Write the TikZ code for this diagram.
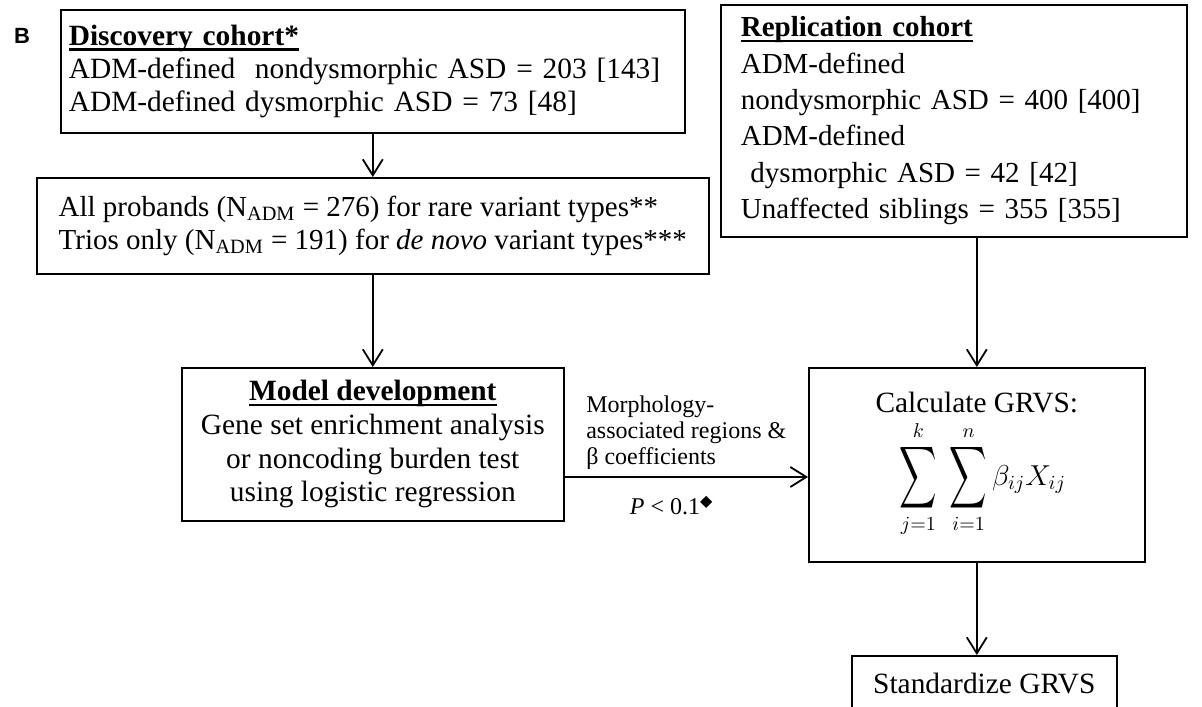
\documentclass[tikz,border=0pt]{standalone}
\usepackage{amsmath}
\usepackage{fontspec}
\setmainfont{Liberation Serif}
\newfontfamily\panelfont{Liberation Sans}
\newfontfamily\symbolfont{DejaVu Sans}
\usetikzlibrary{arrows.meta}

% boxes and arrows of the flow chart
\tikzset{
  box/.style={draw, line width=0.8pt, anchor=north west, inner ysep=0pt,
    font=\fontsize{14.7}{16.8}\selectfont},
  flow/.style={line width=0.9pt,
    -{Straight Barb[length=8pt, width=10pt, line width=0.9pt]}},
  note/.style={font=\fontsize{12}{13.2}\selectfont, align=left}
}
% bold heading with a thick underline close to the baseline
\newcommand{\ulhead}[1]{\setbox0\hbox{\textbf{#1}}%
  \rlap{\rule[-2.7pt]{\wd0}{1.2pt}}\box0}
\newcommand{\bigsum}{\mathop{\vcenter{\hbox{\scalebox{0.9}[1.5]{$\displaystyle\sum$}}}}\limits}

\begin{document}
\begin{tikzpicture}[x=0.5pt, y=-0.5pt]
\useasboundingbox (0,0) rectangle (1202,706);
\clip (0,0) rectangle (1202,706);

\node [font=\panelfont\bfseries\fontsize{11}{13}\selectfont] (panel) at (22,36) {B};

\node [box, minimum width=312pt, minimum height=61.5pt, inner xsep=4pt,
  text width=304pt, align=left, font=\fontsize{14.7}{16.5}\selectfont]
  (discovery) at (60,9)
  {\ulhead{Discovery cohort*}\\
   ADM-defined\ \ nondysmorphic ASD = 203 [143]\\
   ADM-defined dysmorphic ASD = 73 [48]};
\node [box, minimum width=336pt, minimum height=48pt, align=left,
  font=\fontsize{14.5}{16.5}\selectfont] (probands) at (36,177)
  {All probands (N\textsubscript{ADM} = 276) for rare variant types**\\
   Trios only (N\textsubscript{ADM} = 191) for \textit{de novo} variant types***};
\node [box, minimum width=233pt, minimum height=116pt, inner xsep=10pt,
  text width=213pt, align=left, font=\fontsize{14.5}{18.2}\selectfont]
  (replication) at (720,4)
  {\ulhead{Replication cohort}\\
   ADM-defined\\
   nondysmorphic ASD = 400 [400]\\
   ADM-defined\\
   \ dysmorphic ASD = 42 [42]\\
   Unaffected siblings = 355 [355]};
\node [box, minimum width=191pt, minimum height=76.5pt, align=center]
  (model) at (181,367)
  {\ulhead{Model development}\\
   Gene set enrichment analysis\\
   or noncoding burden test\\
   using logistic regression};
\node [box, minimum width=168pt, minimum height=97pt, align=center]
  (calc) at (808,367)
  {Calculate GRVS:\\[3pt]
   \hspace*{6pt}$\bigsum_{j=1}^{k}\;\bigsum_{i=1}^{n}\beta_{ij}X_{ij}$};
\node [box, minimum width=132.5pt, minimum height=28pt, align=center]
  (standard) at (851,655) {Standardize GRVS};

\coordinate (link) at (0,477);

\draw [flow] (discovery) -- (probands);
\draw [flow] (probands.south) -- (probands.south |- model.north);
\draw [flow] (calc.north |- replication.south) -- (calc.north);
\draw [flow] (model.east |- link) --
  node [note, above, inner sep=3pt] (regions)
    {Morphology-\\associated regions \&\\β coefficients}
  node [note, below, pos=0.44, inner sep=9pt] (cutoff)
    {\textit{P} < 0.1\textsuperscript{\symbolfont ◆}}
  (calc.west |- link);
\draw [flow] (calc.south) -- (calc.south |- standard.north);
\end{tikzpicture}
\end{document}
